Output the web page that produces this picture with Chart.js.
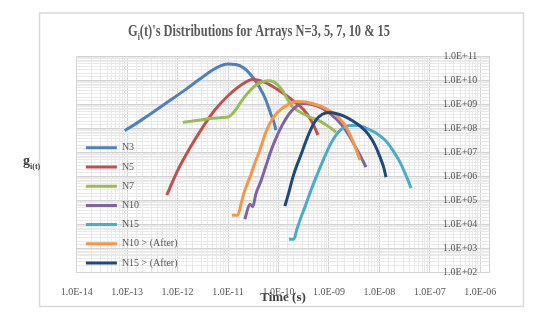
<!DOCTYPE html>
<html><head><meta charset="utf-8">
<script src="https://cdn.jsdelivr.net/npm/chart.js@4.4.1/dist/chart.umd.min.js"></script>
<style>html,body{margin:0;padding:0;background:#fff}canvas{display:block}</style>
</head><body>
<canvas id="c" width="549" height="317"></canvas>
<script>
const seriesNames = ['N3', 'N5', 'N7', 'N10', 'N15', 'N10 > (After)', 'N15 > (After)'];
const seriesColors = ['#4F81BD', '#C0504D', '#9BBB59', '#8064A2', '#4BACC6', '#F79646', '#1F497D'];

const xTickLabels = ['1.0E-14','1.0E-13','1.0E-12','1.0E-11','1.0E-10','1.0E-09','1.0E-08','1.0E-07','1.0E-06'];
const yTickLabels = ['1.0E+02','1.0E+03','1.0E+04','1.0E+05','1.0E+06','1.0E+07','1.0E+08','1.0E+09','1.0E+10','1.0E+11'];

const n3T = [8.95e-14, 1.78e-13, 3.53e-13, 7.0e-13, 1.39e-12, 2.75e-12, 4.78e-12, 6.87e-12, 9.9e-12, 1.43e-11, 2.06e-11, 2.96e-11, 4.28e-11, 5.62e-11, 7.06e-11, 8.11e-11, 8.87e-11];
const n3G = [8.09e7, 2.04e8, 5.37e8, 1.48e9, 3.98e9, 1.15e10, 2.63e10, 3.98e10, 4.9e10, 4.68e10, 3.31e10, 1.55e10, 4.9e9, 1.55e9, 3.98e8, 1.86e8, 8.7e7];

const n5T = [6.11e-13, 1.01e-12, 1.75e-12, 3.16e-12, 5.47e-12, 9.91e-12, 1.71e-11, 3.10e-11, 4.69e-11, 7.40e-11, 1.22e-10, 2.11e-10, 3.19e-10, 4.40e-10, 5.52e-10, 6.05e-10];
const n5G = [1.69e5, 1.87e6, 1.54e7, 1.15e8, 5.9e8, 2.26e9, 5.9e9, 1.10e10, 9.5e9, 5.9e9, 3.01e9, 1.27e9, 5.9e8, 2.26e8, 8.66e7, 5.36e7];

const n7T = [1.27e-12, 2.40e-12, 4.35e-12, 7.53e-12, 1.04e-11, 1.36e-11, 1.79e-11, 2.47e-11, 3.40e-11, 4.69e-11, 6.75e-11, 9.29e-11, 1.22e-10, 1.54e-10, 1.93e-10, 2.66e-10, 4.20e-10, 6.62e-10, 9.55e-10, 1.38e-9];
const n7G = [1.81e8, 2.15e8, 2.61e8, 2.87e8, 3.16e8, 5.36e8, 1.27e9, 3.01e9, 5.9e9, 8.66e9, 9.8e9, 7.14e9, 3.65e9, 1.54e9, 7.87e8, 4.87e8, 3.01e8, 2.05e8, 1.27e8, 7.14e7];

const n10T = [2.15e-11, 2.71e-11, 3.10e-11, 3.56e-11, 4.48e-11, 5.62e-11, 7.06e-11, 9.29e-11, 1.22e-10, 1.68e-10, 2.32e-10, 3.19e-10, 4.60e-10, 7.26e-10, 1.15e-9, 1.81e-9, 2.61e-9, 3.44e-9, 4.32e-9, 5.42e-9];
const n10G = [1.69e4, 7.14e4, 5.62e4, 1.87e5, 6.49e5, 2.74e6, 1.15e7, 4.87e7, 1.54e8, 4.43e8, 8.66e8, 1.10e9, 1.0e9, 7.14e8, 3.65e8, 1.40e8, 4.43e7, 1.54e7, 6.49e6, 2.49e6];

const n15T = [1.61e-10, 2.02e-10, 2.32e-10, 2.66e-10, 3.34e-10, 4.20e-10, 5.27e-10, 6.62e-10, 8.34e-10, 1.05e-9, 1.38e-9, 1.90e-9, 2.61e-9, 3.76e-9, 5.42e-9, 8.57e-9, 1.35e-8, 1.95e-8, 2.56e-8, 3.22e-8, 3.69e-8, 4.24e-8];
const n15G = [2.49e3, 2.49e3, 6.49e3, 1.54e4, 5.36e4, 2.05e5, 7.14e5, 2.26e6, 7.14e6, 2.05e7, 5.36e7, 1.05e8, 1.33e8, 1.33e8, 1.05e8, 6.49e7, 3.01e7, 1.05e7, 4.02e6, 1.40e6, 7.14e5, 3.32e5];

const n10AfterT = [1.19e-11, 1.56e-11, 1.79e-11, 2.06e-11, 2.36e-11, 2.71e-11, 3.40e-11, 4.28e-11, 5.62e-11, 7.74e-11, 1.07e-10, 1.54e-10, 2.32e-10, 3.50e-10, 5.52e-10, 8.71e-10, 1.38e-9, 2.07e-9, 2.86e-9, 3.44e-9, 4.12e-9];
const n10AfterG = [2.49e4, 2.49e4, 6.49e4, 2.05e5, 4.43e5, 9.53e5, 3.65e6, 1.27e7, 7.14e7, 2.74e8, 5.90e8, 1.0e9, 1.33e9, 1.27e9, 1.0e9, 6.81e8, 3.65e8, 1.40e8, 3.65e7, 1.40e7, 4.87e6];

const n15AfterT = [1.34e-10, 1.61e-10, 1.93e-10, 2.32e-10, 2.78e-10, 3.50e-10, 4.40e-10, 5.52e-10, 7.26e-10, 1.0e-9, 1.38e-9, 1.99e-9, 2.99e-9, 4.52e-9, 6.22e-9, 8.18e-9, 1.03e-8, 1.23e-8, 1.35e-8];
const n15AfterG = [5.90e4, 2.26e5, 9.53e5, 3.01e6, 7.87e6, 3.01e7, 9.53e7, 2.26e8, 3.83e8, 4.64e8, 4.22e8, 3.32e8, 2.05e8, 1.10e8, 5.36e7, 2.05e7, 6.49e6, 2.26e6, 9.53e5];

const seriesT = [n3T, n5T, n7T, n10T, n15T, n10AfterT, n15AfterT];
const seriesG = [n3G, n5G, n7G, n10G, n15G, n10AfterG, n15AfterG];

const SERIF = '"Liberation Serif", "Times New Roman", serif';

function isDecade(v) {
  const l = Math.log10(v);
  return Math.abs(l - Math.round(l)) < 1e-6;
}
function findLabel(list, v) {
  const s = list.find(lbl => Math.abs(parseFloat(lbl) - v) / v < 1e-6);
  return s === undefined ? '' : s;
}
const gridColor = c => (c.tick && isDecade(c.tick.value)) ? '#d3d3d3' : '#e9e9e9';

const datasets = seriesNames.map((name, i) => ({
  label: name,
  data: seriesT[i].map((t, k) => ({ x: t, y: seriesG[i][k] })),
  borderColor: seriesColors[i],
  backgroundColor: seriesColors[i],
  borderWidth: 3,
  showLine: true,
  pointRadius: 0,
  pointHoverRadius: 0,
  cubicInterpolationMode: 'monotone',
  borderJoinStyle: 'round',
  order: seriesNames.length - i
}));

const decor = {
  id: 'decor',
  beforeDraw(chart) {
    const ctx = chart.ctx;
    ctx.save();
    ctx.fillStyle = '#ffffff';
    ctx.fillRect(0, 0, chart.width, chart.height);
    ctx.strokeStyle = '#d9d9d9';
    ctx.lineWidth = 1.5;
    ctx.strokeRect(39.5, 13, 484, 293.5);
    ctx.restore();
  },
  afterLayout(chart) {
    if (chart.legend) { chart.legend.top += 61; chart.legend.bottom += 61; }
  },
  afterDraw(chart) {
    const ctx = chart.ctx;
    ctx.save();
    ctx.fillStyle = '#595959';
    ctx.textBaseline = 'alphabetic';
    ctx.textAlign = 'left';
    const big = 'bold 16px ' + SERIF, small = 'bold 10px ' + SERIF;
    const p1 = 'G', p2 = 'i', p3 = "(t)'s Distributions for Arrays N=3, 5, 7, 10 & 15";
    ctx.font = big; const w1 = ctx.measureText(p1).width, w3 = ctx.measureText(p3).width;
    ctx.font = small; const w2 = ctx.measureText(p2).width;
    const total = w1 + w2 + w3;
    const sx = 262 / total;
    ctx.translate(128, 36);
    ctx.scale(sx, 1);
    ctx.font = big; ctx.fillText(p1, 0, 0);
    ctx.font = small; ctx.fillText(p2, w1, 4);
    ctx.font = big; ctx.fillText(p3, w1 + w2, 0);
    ctx.restore();

    ctx.save();
    ctx.fillStyle = '#404040';
    ctx.textBaseline = 'alphabetic';
    ctx.textAlign = 'left';
    ctx.font = 'bold 14px ' + SERIF;
    ctx.fillText('g', 23, 165);
    const gw = ctx.measureText('g').width;
    ctx.font = 'bold 8px ' + SERIF;
    ctx.fillText('i(t)', 23 + gw, 169);
    ctx.restore();
  }
};

new Chart(document.getElementById('c'), {
  type: 'scatter',
  data: { datasets },
  plugins: [decor],
  options: {
    responsive: false,
    animation: false,
    devicePixelRatio: 1,
    layout: { padding: { left: 76.7, right: 59.7, top: 56.5, bottom: 11.5 } },
    plugins: {
      title: { display: false },
      tooltip: { enabled: false },
      legend: {
        position: 'chartArea',
        align: 'end',
        labels: {
          boxWidth: 31,
          boxHeight: 3,
          padding: 9.2,
          color: '#595959',
          font: { family: SERIF, size: 10 },
          generateLabels(chart) {
            return chart.data.datasets.map((ds, i) => ({
              text: ds.label,
              fillStyle: ds.borderColor,
              strokeStyle: ds.borderColor,
              lineWidth: 0,
              hidden: false,
              datasetIndex: i,
              fontColor: '#595959'
            }));
          }
        }
      }
    },
    scales: {
      x: {
        type: 'logarithmic',
        position: 'bottom',
        min: 1e-14,
        max: 1.51e-6,
        afterFit(s) { s.height = 32.8; },
        grid: { color: gridColor, lineWidth: 1, drawTicks: false },
        border: { color: '#d3d3d3', width: 1 },
        ticks: {
          autoSkip: false, maxRotation: 0, minRotation: 0, padding: 14,
          color: '#595959', font: { family: SERIF, size: 10 },
          callback: v => findLabel(xTickLabels, v)
        },
        title: {
          display: true, text: 'Time (s)', color: '#404040', padding: 0,
          font: { family: SERIF, size: 13, weight: 'bold' }
        }
      },
      y: {
        type: 'logarithmic',
        position: 'right',
        min: 1e2,
        max: 1e11,
        afterFit(s) { s.width = 0; },
        grid: { color: gridColor, lineWidth: 1, drawTicks: false },
        border: { color: '#d3d3d3', width: 1 },
        ticks: {
          mirror: true, padding: -12, autoSkip: false,
          color: '#595959', font: { family: SERIF, size: 10 },
          callback: v => findLabel(yTickLabels, v)
        }
      }
    }
  }
});
</script>
</body></html>
